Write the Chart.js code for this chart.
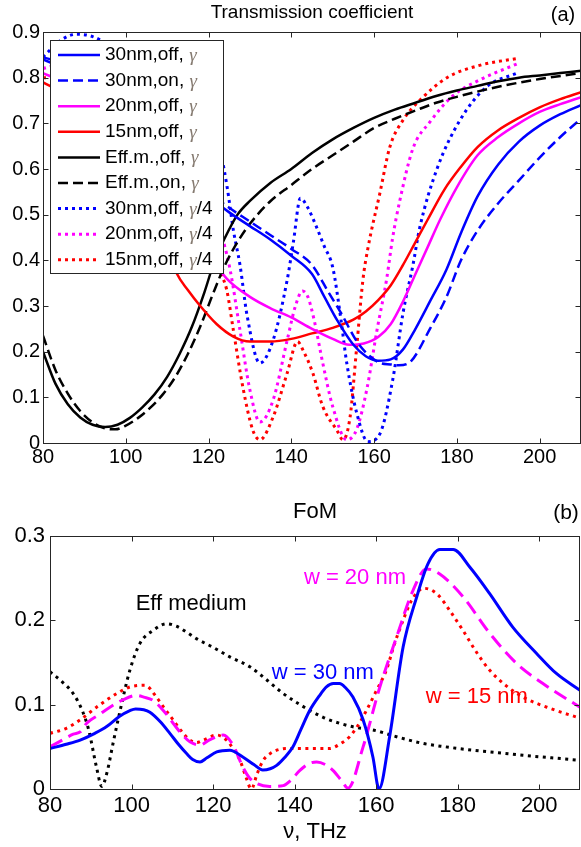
<!DOCTYPE html>
<html>
<head>
<meta charset="utf-8">
<title>Transmission coefficient and FoM</title>
<script src="https://cdn.jsdelivr.net/npm/chart.js@4.4.1/dist/chart.umd.min.js"></script>
<style>
  html, body { margin: 0; padding: 0; background: #fff; }
  #wrap { position: relative; width: 581px; height: 847px; overflow: hidden; }
  canvas { position: absolute; left: 0; }
  #transmission { top: 0; }
  #fom { top: 480px; }
</style>
</head>
<body>
<div id="wrap">
  <canvas id="transmission" width="581" height="480"></canvas>
  <canvas id="fom" width="581" height="367"></canvas>
</div>
<script>
// ---- data (frequency in THz) ----
const freqTicks = [80, 100, 120, 140, 160, 180, 200]
const transTicks = [0, 0.1, 0.2, 0.3, 0.4, 0.5, 0.6, 0.7, 0.8, 0.9]
const fomTicks = [0, 0.1, 0.2, 0.3]

// (a) transmission coefficient
const t30offF = [80, 85, 90, 95, 100, 105, 110, 115, 120, 125, 130, 135, 140, 145, 148, 151, 155, 158, 161, 164, 167, 170, 173.5, 177.5, 181, 185, 190, 195, 200, 205, 210]
const t30offT = [0.84, 0.82, 0.79, 0.755, 0.715, 0.67, 0.625, 0.58, 0.54, 0.505, 0.475, 0.445, 0.41, 0.37, 0.32, 0.27, 0.215, 0.19, 0.18, 0.183, 0.205, 0.25, 0.31, 0.38, 0.46, 0.54, 0.61, 0.66, 0.695, 0.72, 0.74]

const t30onF = [80, 85, 90, 95, 100, 105, 110, 115, 120, 125, 130, 135, 140, 145, 149, 152, 156, 159, 161.5, 164, 166, 169, 173.5, 177.5, 181, 185, 190, 195, 200, 205, 210]
const t30onT = [0.845, 0.83, 0.8, 0.765, 0.725, 0.68, 0.635, 0.59, 0.55, 0.515, 0.485, 0.455, 0.425, 0.39, 0.33, 0.285, 0.22, 0.19, 0.175, 0.172, 0.17, 0.18, 0.25, 0.32, 0.4, 0.465, 0.525, 0.575, 0.625, 0.67, 0.71]

const t20offF = [80, 85, 90, 95, 100, 105, 110, 115, 120, 124.4, 130, 135, 140, 145, 150, 154, 157.5, 161, 164, 167, 170, 173, 176, 180, 185, 190, 195, 200, 205, 210]
const t20offT = [0.81, 0.79, 0.76, 0.72, 0.67, 0.62, 0.555, 0.485, 0.415, 0.36, 0.32, 0.295, 0.275, 0.25, 0.228, 0.215, 0.218, 0.232, 0.26, 0.31, 0.37, 0.43, 0.49, 0.56, 0.63, 0.67, 0.7, 0.725, 0.742, 0.757]

const t15offF = [80, 85, 90, 95, 100, 105, 109, 112.4, 115, 118, 122, 126, 130, 135, 140, 145, 150, 155, 158, 161, 164, 167, 170, 173, 177, 181, 185, 190, 195, 200, 205, 210]
const t15offT = [0.79, 0.765, 0.73, 0.68, 0.62, 0.545, 0.455, 0.37, 0.335, 0.3, 0.26, 0.233, 0.222, 0.222, 0.228, 0.24, 0.252, 0.27, 0.288, 0.313, 0.345, 0.39, 0.44, 0.49, 0.555, 0.605, 0.648, 0.685, 0.712, 0.735, 0.753, 0.768]

const effOffF = [80, 83, 86, 89, 92, 95, 98, 101, 104, 107, 110, 113, 116, 119, 121.5, 124, 127, 130, 135, 140, 145, 150, 155, 160, 165, 170, 175, 180, 185, 190, 195, 200, 205, 210]
const effOffT = [0.2, 0.13, 0.085, 0.056, 0.04, 0.035, 0.04, 0.055, 0.078, 0.107, 0.145, 0.195, 0.255, 0.33, 0.4, 0.45, 0.5, 0.53, 0.57, 0.6, 0.635, 0.665, 0.69, 0.712, 0.73, 0.745, 0.76, 0.772, 0.782, 0.792, 0.8, 0.805, 0.81, 0.815]

const effOnF = [80, 83, 86, 89, 92, 95, 97.5, 100, 103, 106, 109, 112, 115, 118, 121, 124, 127, 130, 135, 140, 145, 150, 155, 160, 165, 170, 175, 180, 190, 200, 210]
const effOnT = [0.235, 0.16, 0.108, 0.07, 0.045, 0.032, 0.03, 0.038, 0.055, 0.078, 0.107, 0.145, 0.195, 0.255, 0.325, 0.39, 0.44, 0.48, 0.53, 0.565, 0.6, 0.63, 0.66, 0.69, 0.71, 0.728, 0.745, 0.758, 0.78, 0.797, 0.81]

const t30qF = [80, 84, 88, 92, 96, 100, 105, 110, 115, 120, 123, 124.5, 126, 127.6, 129.3, 132.4, 135.6, 139, 140.5, 142.2, 144, 146, 148, 150, 152, 153.4, 155.8, 158.5, 161.4, 164.5, 167, 169.4, 171, 175.2, 180.7, 187.2, 194.5]
const t30qT = [0.845, 0.88, 0.895, 0.89, 0.87, 0.84, 0.8, 0.76, 0.72, 0.67, 0.63, 0.56, 0.466, 0.39, 0.28, 0.175, 0.225, 0.357, 0.44, 0.536, 0.515, 0.475, 0.43, 0.385, 0.27, 0.175, 0.066, 0.003, 0.02, 0.138, 0.285, 0.39, 0.47, 0.6, 0.706, 0.78, 0.81]

const t20qF = [80, 85, 90, 95, 100, 105, 110, 115, 119, 121, 123, 125.2, 127.6, 130, 132.4, 135.6, 139, 141, 142.7, 144, 145.5, 147.6, 150, 153.4, 155.8, 158.3, 160.7, 163, 164.5, 166.2, 169.4, 173.5, 179, 185.5, 194.5]
const t20qT = [0.82, 0.83, 0.82, 0.795, 0.76, 0.72, 0.67, 0.6, 0.54, 0.51, 0.46, 0.38, 0.247, 0.116, 0.046, 0.094, 0.225, 0.3, 0.333, 0.32, 0.27, 0.175, 0.08, 0.007, 0.03, 0.12, 0.247, 0.357, 0.45, 0.53, 0.645, 0.703, 0.76, 0.795, 0.83]

const t15qF = [80, 85, 90, 95, 100, 105, 110, 115, 119, 121, 122.8, 124.4, 126, 128.3, 130.7, 132.4, 135.6, 139, 141.5, 143, 145.2, 147.6, 151, 152.5, 154.2, 155.8, 157.3, 158.5, 161.4, 163.8, 167, 171, 177.6, 185.5, 194.5]
const t15qT = [0.8, 0.8, 0.785, 0.755, 0.715, 0.665, 0.6, 0.53, 0.46, 0.42, 0.375, 0.335, 0.247, 0.122, 0.028, 0.007, 0.057, 0.153, 0.222, 0.2, 0.153, 0.08, 0.028, 0.007, 0.057, 0.21, 0.357, 0.426, 0.547, 0.648, 0.707, 0.75, 0.8, 0.827, 0.842]

// (b) figure of merit
const fom30F = [80, 84, 87.4, 91, 93.9, 97, 99.6, 101, 103, 104.5, 107, 109.4, 111.5, 113.5, 115, 116.8, 118.5, 120.9, 124.1, 127.3, 130, 132.2, 134, 135.6, 137.5, 139.6, 141.5, 143.7, 146, 147.8, 149.5, 151, 152.5, 154.3, 156.8, 159.2, 160.7, 163.3, 166.6, 169.9, 172.7, 175.6, 178.9, 183, 187.8, 193.5, 199.3, 204.2, 210]
const fom30V = [0.048, 0.053, 0.058, 0.066, 0.074, 0.086, 0.093, 0.095, 0.094, 0.091, 0.08, 0.066, 0.053, 0.042, 0.035, 0.032, 0.037, 0.044, 0.046, 0.038, 0.029, 0.0225, 0.024, 0.028, 0.037, 0.05, 0.07, 0.093, 0.11, 0.121, 0.125, 0.125, 0.12, 0.109, 0.082, 0.038, 0, 0.062, 0.168, 0.227, 0.267, 0.284, 0.284, 0.263, 0.232, 0.192, 0.161, 0.137, 0.117]

const fom20F = [80, 83, 85.7, 87.5, 89, 92, 94.7, 98, 101.2, 103, 105.3, 108, 110.2, 112.5, 114.3, 116.8, 119, 120.9, 122.5, 124.9, 127.3, 128.8, 130.6, 133.9, 137.2, 139, 141.3, 143.5, 145.4, 147.5, 149.4, 151.5, 153.1, 156.8, 160.9, 165, 169, 172.3, 175.6, 181.3, 187.8, 194.4, 200.9, 210]
const fom20V = [0.05, 0.058, 0.065, 0.068, 0.078, 0.088, 0.097, 0.106, 0.111, 0.109, 0.105, 0.092, 0.078, 0.064, 0.056, 0.052, 0.058, 0.062, 0.064, 0.052, 0.026, 0.014, 0.0067, 0.003, 0.004, 0.01, 0.022, 0.03, 0.032, 0.029, 0.022, 0.01, 0.001, 0.05, 0.121, 0.18, 0.235, 0.261, 0.255, 0.228, 0.185, 0.149, 0.125, 0.097]

const fom15F = [80, 84, 87.4, 91.4, 96.3, 99.6, 103.3, 106.1, 108, 110.2, 112, 114.3, 116, 117.6, 120.9, 123.3, 125, 126.6, 128, 129.4, 130.8, 132.3, 134, 135.6, 138, 141, 145, 148.6, 151, 153.5, 155.5, 157.6, 160, 162.5, 164.5, 166.6, 168.5, 169.9, 171.5, 173.5, 175.6, 178, 181.3, 184.5, 187.8, 192, 196, 203, 210]
const fom15V = [0.066, 0.072, 0.082, 0.097, 0.113, 0.121, 0.123, 0.109, 0.096, 0.082, 0.07, 0.058, 0.055, 0.058, 0.064, 0.058, 0.047, 0.034, 0.015, 0, 0.018, 0.034, 0.042, 0.046, 0.048, 0.048, 0.048, 0.048, 0.053, 0.062, 0.075, 0.093, 0.116, 0.141, 0.172, 0.2, 0.222, 0.232, 0.238, 0.236, 0.228, 0.212, 0.188, 0.163, 0.141, 0.122, 0.109, 0.095, 0.084]

const fomEffF = [80, 83, 85.7, 88, 89.5, 91.4, 92.7, 94, 95.5, 97.2, 99.6, 102.1, 105.3, 108.6, 111, 113.5, 116, 120, 124, 129, 133, 137, 141, 147, 151, 155, 159.2, 165, 171.5, 177, 183.7, 190, 196, 203, 210]
const fomEffV = [0.139, 0.127, 0.113, 0.092, 0.07, 0.026, 0.003, 0.02, 0.055, 0.093, 0.141, 0.173, 0.188, 0.196, 0.193, 0.186, 0.178, 0.168, 0.157, 0.145, 0.13, 0.114, 0.101, 0.085, 0.078, 0.073, 0.07, 0.062, 0.054, 0.05, 0.046, 0.043, 0.04, 0.037, 0.034]

// ---- styling ----
const FONT = '"Liberation Sans", Arial, Helvetica, sans-serif'
const BLUE = '#0000ff'
const MAGENTA = '#ff00ff'
const RED = '#ff0000'
const BLACK = '#000000'
const SOLID = []
const DASH = [10, 5]
const DOT = [3, 4]

const points = (xs, ys) => xs.map((x, i) => ({ x, y: ys[i] }))

const line = (label, xs, ys, color, dash, width) => ({
  label,
  data: points(xs, ys),
  borderColor: color,
  backgroundColor: color,
  borderDash: dash,
  borderWidth: width,
  borderCapStyle: 'butt',
  borderJoinStyle: 'round',
  pointRadius: 0,
  fill: false,
  cubicInterpolationMode: 'monotone'
})

const tickLabel = (v) => (v === 0 ? '0' : v.toFixed(1))

// MATLAB style box with inward ticks
const frame = {
  id: 'frame',
  afterDatasetsDraw (chart) {
    const { ctx, chartArea: a, scales: { x, y } } = chart
    const len = 5
    ctx.save()
    ctx.strokeStyle = '#262626'
    ctx.lineWidth = 1
    const l = Math.round(a.left) + 0.5
    const r = Math.round(a.right) - 0.5
    const t = Math.round(a.top) + 0.5
    const b = Math.round(a.bottom) + 0.5
    ctx.strokeRect(l, t, r - l, b - t)
    ctx.beginPath()
    x.ticks.forEach((tick) => {
      const px = Math.round(x.getPixelForValue(tick.value)) + 0.5
      ctx.moveTo(px, b)
      ctx.lineTo(px, b - len)
      ctx.moveTo(px, t)
      ctx.lineTo(px, t + len)
    })
    y.ticks.forEach((tick) => {
      const py = Math.round(y.getPixelForValue(tick.value)) + 0.5
      ctx.moveTo(l, py)
      ctx.lineTo(l + len, py)
      ctx.moveTo(r, py)
      ctx.lineTo(r - len, py)
    })
    ctx.stroke()
    ctx.restore()
  }
}

// titles, panel tags and in-plot notes
const panelText = {
  id: 'panelText',
  afterDraw (chart, args, opts) {
    const { ctx, chartArea: a, scales } = chart
    ctx.save()
    ctx.textAlign = 'center'
    ctx.textBaseline = 'middle'
    ctx.fillStyle = '#000'
    ctx.font = `${opts.titleSize}px ${FONT}`
    ctx.fillText(opts.title, (a.left + a.right) / 2, opts.titleY)
    ctx.font = `${opts.tagSize}px ${FONT}`
    ctx.fillText(opts.tag, opts.tagX, opts.tagY)
    const notes = opts.notes || []
    notes.forEach((n) => {
      ctx.fillStyle = n.color
      ctx.font = `${opts.noteSize}px ${FONT}`
      ctx.fillText(n.text, scales.x.getPixelForValue(n.x), scales.y.getPixelForValue(n.y))
    })
    ctx.restore()
  }
}

// boxed legend in the upper left corner of the axes
const boxLegend = {
  id: 'boxLegend',
  afterDraw (chart, args, opts) {
    if (!opts.display) return
    const { ctx } = chart
    const sets = chart.data.datasets
    ctx.save()
    ctx.fillStyle = '#fff'
    ctx.fillRect(opts.left, opts.top, opts.width, opts.height)
    ctx.strokeStyle = '#262626'
    ctx.lineWidth = 1
    ctx.strokeRect(opts.left + 0.5, opts.top + 0.5, opts.width, opts.height)
    sets.forEach((ds, i) => {
      const cy = opts.top + opts.first + i * opts.row
      ctx.beginPath()
      ctx.strokeStyle = ds.borderColor
      ctx.lineWidth = ds.borderWidth
      ctx.lineCap = 'butt'
      ctx.setLineDash(ds.borderDash)
      ctx.moveTo(opts.left + 8, cy)
      ctx.lineTo(opts.left + 50, cy)
      ctx.stroke()
      ctx.setLineDash([])
      const [head, tail] = ds.label.split('γ')
      let tx = opts.left + 55
      ctx.textBaseline = 'middle'
      ctx.textAlign = 'left'
      ctx.font = `${opts.size}px ${FONT}`
      ctx.fillStyle = '#000'
      ctx.fillText(head, tx, cy)
      tx += ctx.measureText(head).width
      ctx.font = `italic ${opts.size}px "Liberation Serif", "DejaVu Serif", serif`
      ctx.fillStyle = '#857a70'
      ctx.fillText('γ', tx, cy + 1)
      tx += ctx.measureText('γ').width
      ctx.font = `${opts.size}px ${FONT}`
      ctx.fillStyle = '#000'
      ctx.fillText(tail, tx, cy)
    })
    ctx.restore()
  }
}

const axisX = (size, pad, height, title) => ({
  type: 'linear',
  min: 80,
  max: 210,
  afterBuildTicks: (s) => { s.ticks = freqTicks.map((value) => ({ value })) },
  afterFit: (s) => { s.height = height },
  ticks: { color: '#000', padding: pad, maxRotation: 0, autoSkip: false, font: { family: FONT, size } },
  grid: { display: false, drawTicks: false },
  border: { display: false },
  title
})

const axisY = (min, max, list, size, pad, width) => ({
  type: 'linear',
  min,
  max,
  afterBuildTicks: (s) => { s.ticks = list.map((value) => ({ value })) },
  afterFit: (s) => { s.width = width },
  ticks: { color: '#000', padding: pad, callback: tickLabel, font: { family: FONT, size } },
  grid: { display: false, drawTicks: false },
  border: { display: false }
})

new Chart(document.getElementById('transmission'), {
  type: 'line',
  data: {
    datasets: [
      line('30nm,off, γ', t30offF, t30offT, BLUE, SOLID, 2.5),
      line('30nm,on, γ', t30onF, t30onT, BLUE, DASH, 2.5),
      line('20nm,off, γ', t20offF, t20offT, MAGENTA, SOLID, 2.5),
      line('15nm,off, γ', t15offF, t15offT, RED, SOLID, 2.5),
      line('Eff.m.,off, γ', effOffF, effOffT, BLACK, SOLID, 2.5),
      line('Eff.m.,on, γ', effOnF, effOnT, BLACK, DASH, 2.5),
      line('30nm,off, γ/4', t30qF, t30qT, BLUE, DOT, 3),
      line('20nm,off, γ/4', t20qF, t20qT, MAGENTA, DOT, 3),
      line('15nm,off, γ/4', t15qF, t15qT, RED, DOT, 3)
    ]
  },
  options: {
    responsive: false,
    animation: false,
    layout: { padding: { top: 32, right: 0, left: 0, bottom: 0 } },
    scales: {
      x: axisX(20, 2, 37, { display: false }),
      y: axisY(0, 0.9, transTicks, 20, 3, 43)
    },
    plugins: {
      legend: { display: false },
      tooltip: { enabled: false },
      panelText: { title: 'Transmission coefficient', titleSize: 19, titleY: 13, tag: '(a)', tagSize: 20, tagX: 563, tagY: 15 },
      boxLegend: { display: true, left: 50, top: 40, width: 173, height: 233, first: 15, row: 25.6, size: 19 }
    }
  },
  plugins: [frame, panelText, boxLegend]
})

new Chart(document.getElementById('fom'), {
  type: 'line',
  data: {
    datasets: [
      line('w = 30 nm', fom30F, fom30V, BLUE, SOLID, 3),
      line('w = 20 nm', fom20F, fom20V, MAGENTA, [14, 7], 3),
      line('w = 15 nm', fom15F, fom15V, RED, [3, 4.5], 3),
      line('Eff medium', fomEffF, fomEffV, BLACK, [3, 4.5], 3)
    ]
  },
  options: {
    responsive: false,
    animation: false,
    layout: { padding: { top: 56, right: 1, left: 0, bottom: 0 } },
    scales: {
      x: axisX(22, 4, 58, {
        display: true,
        text: 'ν, THz',
        color: '#000',
        padding: { top: 0, bottom: 2 },
        font: { family: FONT, size: 22 }
      }),
      y: axisY(0, 0.3, fomTicks, 22, 5, 50)
    },
    plugins: {
      legend: { display: false },
      tooltip: { enabled: false },
      boxLegend: { display: false },
      panelText: {
        title: 'FoM',
        titleSize: 22,
        titleY: 32,
        tag: '(b)',
        tagSize: 21,
        tagX: 566,
        tagY: 33,
        noteSize: 22,
        notes: [
          { text: 'Eff medium', x: 114.6, y: 0.219, color: BLACK },
          { text: 'w = 30 nm', x: 146.9, y: 0.138, color: BLUE },
          { text: 'w = 20 nm', x: 154.8, y: 0.25, color: MAGENTA },
          { text: 'w = 15 nm', x: 184.7, y: 0.109, color: RED }
        ]
      }
    }
  },
  plugins: [frame, panelText, boxLegend]
})
</script>
</body>
</html>
